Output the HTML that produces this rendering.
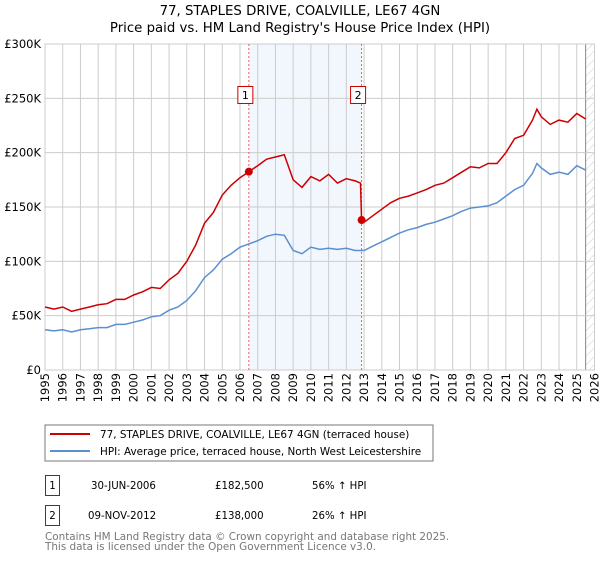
<!DOCTYPE html>
<html><head><meta charset="utf-8"><style>
body{margin:0;background:#fff;font-family:"DejaVu Sans","Liberation Sans",sans-serif;}
svg text{font-family:"DejaVu Sans","Liberation Sans",sans-serif;}
</style></head><body>
<svg id="chart" width="600" height="560" xmlns="http://www.w3.org/2000/svg">
<defs><pattern id="hatch" width="6" height="6" patternUnits="userSpaceOnUse" patternTransform="rotate(45)"><line x1="0" y1="0" x2="0" y2="6" stroke="#ccc" stroke-width="1"/></pattern></defs>
<text x="300" y="15" text-anchor="middle" font-size="13.3">77, STAPLES DRIVE, COALVILLE, LE67 4GN</text>
<text x="300" y="32" text-anchor="middle" font-size="13.3">Price paid vs. HM Land Registry's House Price Index (HPI)</text>
<g id="grid"></g><g id="marks"></g><g id="axes"></g>
<rect x="45" y="425" width="388" height="36" fill="#fff" stroke="#777"/>
<line x1="50" y1="434" x2="90" y2="434" stroke="#cc0000" stroke-width="2"/>
<text x="100" y="438" font-size="10.4">77, STAPLES DRIVE, COALVILLE, LE67 4GN (terraced house)</text>
<line x1="50" y1="451" x2="90" y2="451" stroke="#5b8fd0" stroke-width="2"/>
<text x="100" y="455" font-size="10.4">HPI: Average price, terraced house, North West Leicestershire</text>
<g>
<rect x="45.5" y="475.5" width="14" height="20" fill="none" stroke="#cc0000"/>
<text x="52.5" y="489" font-size="10.2" text-anchor="middle">1</text>
<text x="91" y="489" font-size="10.2">30-JUN-2006</text>
<text x="215" y="489" font-size="10.2">£182,500</text>
<text x="312" y="489" font-size="10.2">56% ↑ HPI</text></g>
<g>
<rect x="45.5" y="505.5" width="14" height="20" fill="none" stroke="#cc0000"/>
<text x="52.5" y="519" font-size="10.2" text-anchor="middle">2</text>
<text x="88" y="519" font-size="10.2">09-NOV-2012</text>
<text x="215" y="519" font-size="10.2">£138,000</text>
<text x="312" y="519" font-size="10.2">26% ↑ HPI</text></g>
<text x="45" y="540" font-size="10.4" fill="#777">Contains HM Land Registry data © Crown copyright and database right 2025.</text>
<text x="45" y="550" font-size="10.4" fill="#777">This data is licensed under the Open Government Licence v3.0.</text>
</svg>
<script>
const hpiYears=[1995,1995.5,1996,1996.5,1997,1997.5,1998,1998.5,1999,1999.5,2000,2000.5,2001,2001.5,2002,2002.5,2003,2003.5,2004,2004.5,2005,2005.5,2006,2006.5,2007,2007.5,2008,2008.5,2009,2009.5,2010,2010.5,2011,2011.5,2012,2012.5,2013,2013.5,2014,2014.5,2015,2015.5,2016,2016.5,2017,2017.5,2018,2018.5,2019,2019.5,2020,2020.5,2021,2021.5,2022,2022.5,2022.75,2023,2023.5,2024,2024.5,2025,2025.5];
const hpiValues=[37,36,37,35,37,38,39,39,42,42,44,46,49,50,55,58,64,73,85,92,102,107,113,116,119,123,125,124,110,107,113,111,112,111,112,110,110,114,118,122,126,129,131,134,136,139,142,146,149,150,151,154,160,166,170,181,190,186,180,182,180,188,184];
const propYears=[1995,1995.5,1996,1996.5,1997,1997.5,1998,1998.5,1999,1999.5,2000,2000.5,2001,2001.5,2002,2002.5,2003,2003.5,2004,2004.5,2005,2005.5,2006,2006.5,2007,2007.5,2008,2008.5,2009,2009.5,2010,2010.5,2011,2011.5,2012,2012.5,2012.8,2012.86,2013,2013.5,2014,2014.5,2015,2015.5,2016,2016.5,2017,2017.5,2018,2018.5,2019,2019.5,2020,2020.5,2021,2021.5,2022,2022.5,2022.75,2023,2023.5,2024,2024.5,2025,2025.5];
const propValues=[58,56,58,54,56,58,60,61,65,65,69,72,76,75,83,89,100,115,135,145,161,170,177,182.5,188,194,196,198,175,168,178,174,180,172,176,174,172,138,136,142,148,154,158,160,163,166,170,172,177,182,187,186,190,190,200,213,216,230,240,233,226,230,228,236,231];
const saleYears=[2006.5,2012.86];
const saleValues=[182.5,138];
const saleLabels=["1","2"];
const yTicks=[0,50,100,150,200,250,300];
const yTickLabels=["£0","£50K","£100K","£150K","£200K","£250K","£300K"];
const xTicks=[];for(let y=1995;y<=2026;y++)xTicks.push(y);

const X0=45,X1=594.5,Y0=370,Y1=44;
const xs=t=>X0+(t-1995)/31*(X1-X0);
const ys=v=>Y0-v/300*(Y0-Y1);
const NS="http://www.w3.org/2000/svg";
function mk(tag,attrs,parent){const e=document.createElementNS(NS,tag);for(const k in attrs)e.setAttribute(k,attrs[k]);parent.appendChild(e);return e;}
const grid=document.getElementById('grid'),marks=document.getElementById('marks'),axes=document.getElementById('axes');
const sh=mk('rect',{x:xs(saleYears[0]),y:Y1,width:xs(saleYears[1])-xs(saleYears[0]),height:Y0-Y1,fill:'#f2f6fd'},grid);


const ht=mk('rect',{x:xs(2025.5),y:Y1,width:X1-xs(2025.5),height:Y0-Y1,fill:'url(#hatch)'},grid);


mk('line',{x1:xs(2025.5),y1:Y1,x2:xs(2025.5),y2:Y0,stroke:'#888'},grid);
xTicks.forEach(t=>{mk('line',{x1:xs(t),y1:Y1,x2:xs(t),y2:Y0,stroke:'#ccc'},grid);
 const l=mk('text',{x:0,y:0,'font-size':11.5,'text-anchor':'end',transform:`translate(${xs(t)+4},373) rotate(-90)`},axes);l.textContent=t;
 
 });
yTicks.forEach((v,i)=>{mk('line',{x1:X0,y1:ys(v),x2:X1,y2:ys(v),stroke:'#ccc'},grid);
 const l=mk('text',{x:41,y:ys(v)+4,'font-size':11.5,'text-anchor':'end'},axes);l.textContent=yTickLabels[i];
 
 });
mk('rect',{x:X0,y:Y1,width:X1-X0,height:Y0-Y1,fill:'none',stroke:'#ccc'},grid);
saleYears.forEach((t,i)=>{mk('line',{x1:xs(t),y1:Y1,x2:xs(t),y2:Y0,stroke:'#e06060','stroke-dasharray':'2,2'},grid);
 const g=mk('g',{},marks);
 
 
 mk('rect',{x:xs(t)-11,y:86.5,width:15,height:17,fill:'#fff',stroke:'#cc0000'},g);
 const tx=mk('text',{x:xs(t)-3.5,y:99,'font-size':11,'text-anchor':'middle'},g);tx.textContent=saleLabels[i];});
function path(xsA,vs){return xsA.map((t,i)=>(i?'L':'M')+xs(t).toFixed(1)+','+ys(vs[i]).toFixed(1)).join('');}
const hp=mk('path',{d:path(hpiYears,hpiValues),fill:'none',stroke:'#5b8fd0','stroke-width':1.5},marks);


const pp=mk('path',{d:path(propYears,propValues),fill:'none',stroke:'#cc0000','stroke-width':1.5},marks);


saleYears.forEach((t,i)=>{const c=mk('circle',{cx:xs(t),cy:ys(saleValues[i]),r:4,fill:'#cc0000'},marks);
 
 });
</script>
</body></html>
